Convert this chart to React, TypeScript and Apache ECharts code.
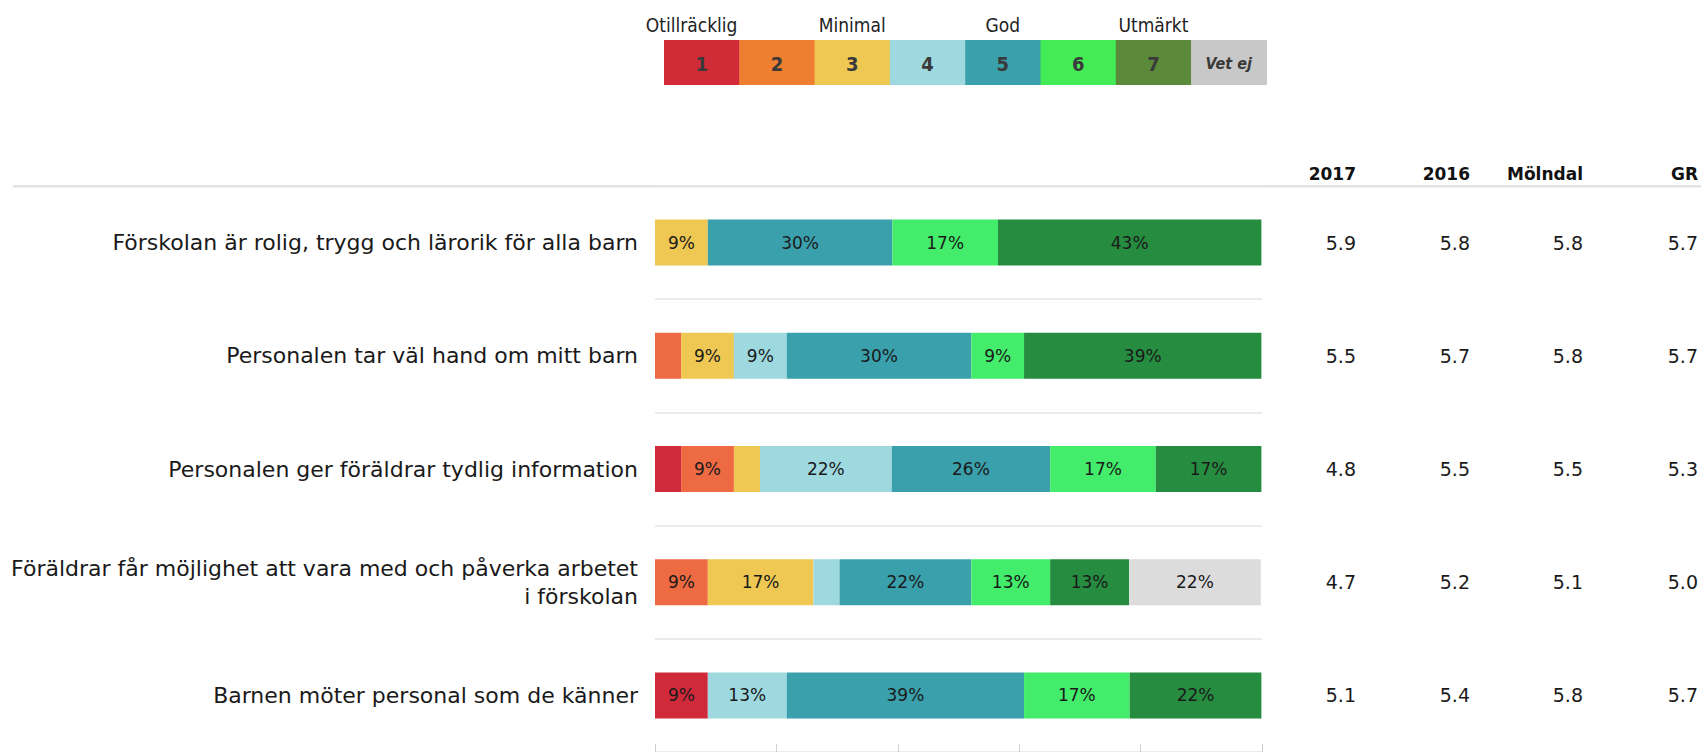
import React, { useEffect, useRef } from "react";
import * as echarts from "echarts";

// ---- Data ----
const questions = [
  "Förskolan är rolig, trygg och lärorik för alla barn",
  "Personalen tar väl hand om mitt barn",
  "Personalen ger föräldrar tydlig information",
  "Föräldrar får möjlighet att vara med och påverka arbetet\ni förskolan",
  "Barnen möter personal som de känner",
];

const seriesNames = ["1", "2", "3", "4", "5", "6", "7", "Vet ej"];
const level1 = [0, 0, 4.3, 0, 8.7];
const level2 = [0, 4.3, 8.7, 8.7, 0];
const level3 = [8.7, 8.7, 4.3, 17.4, 0];
const level4 = [0, 8.7, 21.7, 4.3, 13.0];
const level5 = [30.4, 30.4, 26.1, 21.7, 39.1];
const level6 = [17.4, 8.7, 17.4, 13.0, 17.4];
const level7 = [43.4, 39.1, 17.4, 13.0, 21.7];
const vetEj = [0, 0, 0, 21.7, 0];

const colHeaders = ["2017", "2016", "Mölndal", "GR"];
const val2017 = [5.9, 5.5, 4.8, 4.7, 5.1];
const val2016 = [5.8, 5.7, 5.5, 5.2, 5.4];
const valMolndal = [5.8, 5.8, 5.5, 5.1, 5.8];
const valGR = [5.7, 5.7, 5.3, 5.0, 5.7];

const legendNumbers = ["1", "2", "3", "4", "5", "6", "7", "Vet ej"];
const legendTopLabels = ["Otillräcklig", "", "Minimal", "", "God", "", "Utmärkt", ""];

// ---- Styles ----
const barColors = ["#D02A3A", "#EE6A43", "#EEC853", "#9FD9E0", "#3AA0AC", "#43EC6A", "#268C40", "#DCDCDC"];
const legendColors = ["#D12B38", "#EE7F30", "#EEC853", "#9FD9E0", "#3AA0AC", "#43EC55", "#5A8A3A", "#C8C8C8"];

const W = 1701;
const H = 752;
const gridLeft = 655;
const gridWidth = 607;
const gridTop = 186;
const gridHeight = 568;
const gridRightX = gridLeft + gridWidth;
const colOffsets = [94, 208, 321, 436];
const narrowFont = "'Liberation Sans Narrow', 'DejaVu Sans Condensed', 'Arial Narrow', sans-serif";
const mainFont = "'DejaVu Sans', sans-serif";

export default function App() {
  const ref = useRef<HTMLDivElement>(null);

  useEffect(() => {
    if (!ref.current) return;
    const chart = echarts.init(ref.current, undefined, { renderer: "svg" });

    const levels = [level1, level2, level3, level4, level5, level6, level7, vetEj];
    const valueCols = [val2017, val2016, valMolndal, valGR];

    const series = levels.map((arr, i) => ({
      name: seriesNames[i],
      type: "bar" as const,
      stack: "total",
      barWidth: 46,
      yAxisIndex: 0,
      itemStyle: { color: barColors[i] },
      label: {
        show: true,
        position: "inside" as const,
        color: "#1a1a1a",
        fontFamily: mainFont,
        fontSize: 17,
        formatter: (p: any) => (p.value >= 6 ? Math.round(p.value) + "%" : ""),
      },
      data: arr,
    }));

    const rightAxes = valueCols.map((vals, i) => ({
      type: "category" as const,
      inverse: true,
      position: "right" as const,
      offset: colOffsets[i],
      data: vals.map((v) => v.toFixed(1)),
      axisLine: { show: false },
      axisTick: { show: false },
      splitLine: { show: false },
      axisLabel: {
        align: "right" as const,
        margin: 0,
        fontFamily: mainFont,
        fontSize: 19,
        color: "#1a1a1a",
      },
    }));

    const legendX = 664;
    const legendW = 75.3;
    const legendY = 40;
    const legendH = 45;

    const graphic: any[] = [];
    graphic.push({
      type: "rect",
      shape: { x: 13, y: 185, width: W - 13, height: 2.5 },
      style: { fill: "#e2e2e2" },
      silent: true,
    });
    colHeaders.forEach((h, i) => {
      graphic.push({
        type: "text",
        x: gridRightX + colOffsets[i],
        y: 174,
        style: {
          text: h,
          fill: "#111",
          font: `bold 17px ${mainFont}`,
          textAlign: "right",
          textVerticalAlign: "middle",
        },
      });
    });
    legendNumbers.forEach((n, i) => {
      const x = legendX + i * legendW;
      graphic.push({
        type: "rect",
        shape: { x, y: legendY, width: legendW + 0.5, height: legendH },
        style: { fill: legendColors[i] },
        silent: true,
      });
      const isVet = n === "Vet ej";
      graphic.push({
        type: "text",
        x: x + legendW / 2,
        y: legendY + legendH / 2 + 1,
        style: {
          text: n,
          fill: "#3a3a3a",
          font: isVet ? `italic bold 16px ${narrowFont}` : `bold 20px ${narrowFont}`,
          textAlign: "center",
          textVerticalAlign: "middle",
        },
      });
      if (legendTopLabels[i]) {
        graphic.push({
          type: "text",
          x: x + legendW / 2 - (i === 0 ? 10 : 0),
          y: 25,
          style: {
            text: legendTopLabels[i],
            fill: "#222",
            font: `19px ${narrowFont}`,
            textAlign: "center",
            textVerticalAlign: "middle",
          },
        });
      }
    });

    chart.setOption({
      animation: false,
      backgroundColor: "#ffffff",
      grid: { left: gridLeft, top: gridTop, width: gridWidth, height: gridHeight, containLabel: false },
      xAxis: {
        type: "value",
        min: 0,
        max: 100,
        interval: 20,
        axisLabel: { show: false },
        splitLine: { show: false },
        axisLine: { show: false },
        axisTick: { show: true, inside: true, length: 8, lineStyle: { color: "#cfcfcf", width: 1 } },
      },
      yAxis: [
        {
          type: "category",
          inverse: true,
          data: questions,
          axisLine: { show: false },
          axisTick: { show: false },
          splitLine: { show: true, lineStyle: { color: "#e4e4e4", width: 1.5 } },
          axisLabel: {
            margin: 17,
            fontFamily: mainFont,
            fontSize: 22,
            lineHeight: 28,
            color: "#1a1a1a",
            align: "right",
          },
        },
        ...rightAxes,
      ],
      series,
      graphic,
    });

    return () => chart.dispose();
  }, []);

  return (
    <div
      ref={ref}
      style={{ position: "fixed", left: 0, top: 0, width: W + "px", height: H + "px", background: "#fff" }}
    />
  );
}
